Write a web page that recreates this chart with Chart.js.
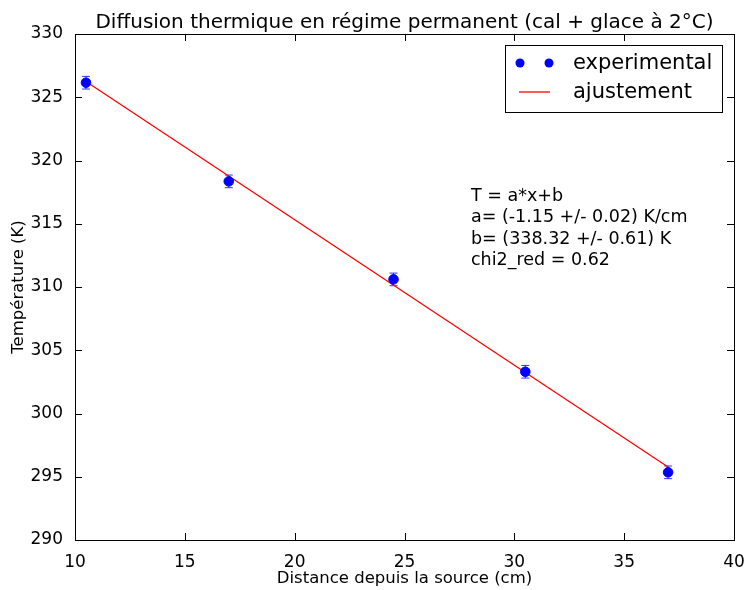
<!DOCTYPE html>
<html lang="fr">
<head>
  <meta charset="UTF-8">
  <script src="https://cdn.jsdelivr.net/npm/chart.js"></script>
  <title>Diffusion thermique</title>
  <style>
    html, body { margin: 0; padding: 0; background: #fff; }
    .chart-box { width: 745px; height: 590px; }
  </style>
</head>
<body>
  <div class="chart-box"><canvas id="myChart"></canvas></div>
  <script>
    // mesures
    const distances = [10.5, 17, 24.5, 30.5, 37];
    const temperatures = [326.15, 318.35, 310.6, 303.3, 295.35];
    const errors = [0.5, 0.5, 0.5, 0.5, 0.5];
    // droite d'ajustement (extremites)
    const fitX = [10.5, 37];
    const fitY = [326.25, 295.77];
    const xTicks = [10, 15, 20, 25, 30, 35, 40];
    const yTicks = [290, 295, 300, 305, 310, 315, 320, 325, 330];
    const fitText = ['T = a*x+b', 'a= (-1.15 +/- 0.02) K/cm', 'b= (338.32 +/- 0.61) K', 'chi2_red = 0.62'];
    const titleText = 'Diffusion thermique en régime permanent (cal + glace à 2°C)';

    const FONT = "'DejaVu Sans', sans-serif";

    const frame = {
      id: 'frame',
      beforeDatasetsDraw(chart) {
        // error bars
        const ctx = chart.ctx, xs = chart.scales.x, ys = chart.scales.y;
        ctx.save();
        ctx.strokeStyle = 'rgba(0,0,255,0.8)';
        ctx.lineWidth = 1;
        distances.forEach((d, i) => {
          const px = xs.getPixelForValue(d);
          const top = ys.getPixelForValue(temperatures[i] + errors[i]);
          const bot = ys.getPixelForValue(temperatures[i] - errors[i]);
          ctx.beginPath();
          ctx.moveTo(px, top); ctx.lineTo(px, bot);
          ctx.moveTo(px - 4, top); ctx.lineTo(px + 4, top);
          ctx.moveTo(px - 4, bot); ctx.lineTo(px + 4, bot);
          ctx.stroke();
        });
        ctx.restore();
      },
      afterDraw(chart) {
        const ctx = chart.ctx, a = chart.chartArea, xs = chart.scales.x, ys = chart.scales.y;
        ctx.save();
        // titre
        ctx.fillStyle = '#000';
        ctx.font = '20px ' + FONT;
        ctx.textAlign = 'center';
        ctx.textBaseline = 'alphabetic';
        ctx.fillText(titleText, (a.left + a.right) / 2, 28);
        ctx.textAlign = 'left';

        ctx.strokeStyle = '#000';
        ctx.lineWidth = 1;
        ctx.strokeRect(Math.round(a.left) + 0.5, Math.round(a.top) + 0.5, Math.round(a.right - a.left), Math.round(a.bottom - a.top));
        // inward ticks on all sides
        ctx.beginPath();
        xTicks.forEach(v => {
          const p = Math.round(xs.getPixelForValue(v)) + 0.5;
          ctx.moveTo(p, a.bottom); ctx.lineTo(p, a.bottom - 7);
          ctx.moveTo(p, a.top); ctx.lineTo(p, a.top + 7);
        });
        yTicks.forEach(v => {
          const p = Math.round(ys.getPixelForValue(v)) + 0.5;
          ctx.moveTo(a.left, p); ctx.lineTo(a.left + 7, p);
          ctx.moveTo(a.right, p); ctx.lineTo(a.right - 7, p);
        });
        ctx.stroke();

        // texte de l'ajustement
        ctx.font = '17.5px ' + FONT;
        ctx.textBaseline = 'middle';
        fitText.forEach((t, i) => ctx.fillText(t, 471, 196 + i * 21.5));

        // legende
        ctx.fillStyle = '#fff';
        ctx.fillRect(505, 45, 217, 67);
        ctx.strokeRect(505.5, 45.5, 217, 67);
        ctx.fillStyle = 'blue';
        [520, 549].forEach(x => {
          ctx.beginPath(); ctx.arc(x, 63, 4.5, 0, Math.PI * 2); ctx.fill();
        });
        ctx.strokeStyle = 'red';
        ctx.lineWidth = 1.3;
        ctx.beginPath(); ctx.moveTo(519, 92); ctx.lineTo(550, 92); ctx.stroke();
        ctx.fillStyle = '#000';
        ctx.font = '21px ' + FONT;
        ctx.fillText('experimental', 573, 64);
        ctx.fillText('ajustement', 573, 93);
        ctx.restore();
      }
    };

    new Chart(document.getElementById('myChart'), {
      type: 'scatter',
      data: {
        datasets: [{
          label: 'experimental',
          data: distances.map((d, i) => ({ x: d, y: temperatures[i] })),
          backgroundColor: 'blue',
          borderColor: 'blue',
          pointRadius: 4.8,
          order: 0
        }, {
          label: 'ajustement',
          type: 'line',
          data: fitX.map((d, i) => ({ x: d, y: fitY[i] })),
          borderColor: 'red',
          borderWidth: 1.3,
          pointRadius: 0,
          order: 1
        }]
      },
      options: {
        responsive: true,
        maintainAspectRatio: false,
        animation: false,
        layout: { padding: { right: 11, left: 0, top: 34, bottom: 0 } },
        plugins: {
          legend: { display: false },
          tooltip: { enabled: false },
          title: { display: false }
        },
        scales: {
          x: {
            type: 'linear',
            min: 10, max: 40,
            afterFit: s => { s.height = 50; s.paddingRight = 0; s.paddingLeft = 0; },
            afterBuildTicks: s => { s.ticks = xTicks.map(v => ({ value: v })); },
            grid: { display: false },
            border: { display: false },
            ticks: { color: '#000', padding: 4, font: { family: FONT, size: 17 } },
            title: { display: true, text: 'Distance depuis la source (cm)', color: '#000', padding: { top: 4, bottom: 1 }, font: { family: FONT, size: 16.5 } }
          },
          y: {
            min: 290, max: 330,
            afterFit: s => { s.width = 75; s.paddingTop = 0; s.paddingBottom = 0; },
            afterBuildTicks: s => { s.ticks = yTicks.map(v => ({ value: v })); },
            grid: { display: false },
            border: { display: false },
            ticks: { color: '#000', padding: 4, font: { family: FONT, size: 17 } },
            title: { display: true, text: 'Température (K)', color: '#000', padding: { top: 9, bottom: 4 }, font: { family: FONT, size: 16.5 } }
          }
        }
      },
      plugins: [frame]
    });
  </script>
</body>
</html>
